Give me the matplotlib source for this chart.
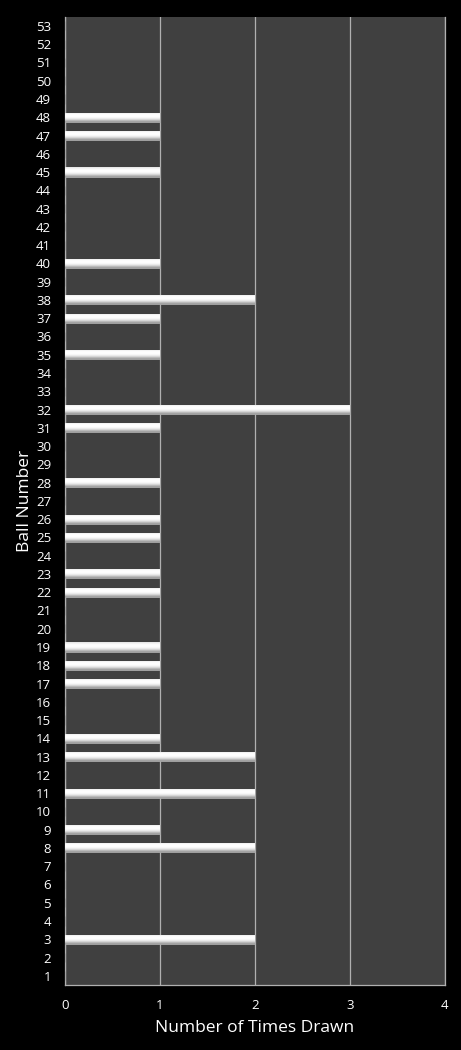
import matplotlib
matplotlib.use("Agg")
import matplotlib.pyplot as plt
import numpy as np

balls = list(range(1, 54))
drawn_balls = [3, 8, 9, 11, 13, 14, 17, 18, 19, 22, 23, 25, 26, 28, 31, 32, 35, 37, 38, 40, 45, 47, 48]
drawn_counts = [2, 2, 1, 2, 2, 1, 1, 1, 1, 1, 1, 1, 1, 1, 1, 3, 1, 1, 2, 1, 1, 1, 1]
counts = [drawn_counts[drawn_balls.index(b)] if b in drawn_balls else 0 for b in balls]

plt.rcParams['font.family'] = ['Open Sans', 'DejaVu Sans']

fig = plt.figure(figsize=(4.61, 10.5), dpi=100, facecolor='black')
ax = fig.add_axes([0.141, 0.062, 0.824, 0.922])
ax.set_facecolor('#404040')

ypos = np.arange(len(balls))
bars = ax.barh(ypos, counts, height=0.5, color='#f4f4f4', edgecolor='#a0a0a0', linewidth=0.6, zorder=3)

grad = np.array([0.62, 0.78, 0.9, 0.97, 1.0, 1.0, 0.98, 0.9]).reshape(-1, 1)
for b in bars:
    w = b.get_width()
    if w <= 0:
        continue
    x0, y0, h = b.get_x(), b.get_y(), b.get_height()
    im = ax.imshow(grad, cmap='gray', vmin=0, vmax=1, aspect='auto',
                   extent=(x0, x0 + w, y0, y0 + h), origin='lower',
                   interpolation='bicubic', zorder=3.5)
    im.set_clip_path(b)

ax.set_xlim(0, 4)
ax.set_ylim(-0.5, len(balls) - 0.5)
ax.set_yticks(ypos)
ax.set_yticklabels([str(b) for b in balls])
ax.set_xticks([0, 1, 2, 3, 4])
ax.xaxis.grid(True, color='#b0b0b0', linewidth=0.9, zorder=1)
ax.set_axisbelow(True)
ax.tick_params(colors='white', labelsize=9.5, length=0)
ax.tick_params(axis='y', pad=10)
ax.tick_params(axis='x', pad=10)
for s in ['top']:
    ax.spines[s].set_visible(False)
for s in ['left', 'bottom', 'right']:
    ax.spines[s].set_color('#b0b0b0')
    ax.spines[s].set_linewidth(0.9)

ax.set_xlabel('Number of Times Drawn', color='white', fontsize=12.5, labelpad=6)
ax.set_ylabel('Ball Number', color='white', fontsize=12.5, labelpad=2)

fig.savefig('out.png', dpi=100, facecolor='black')
